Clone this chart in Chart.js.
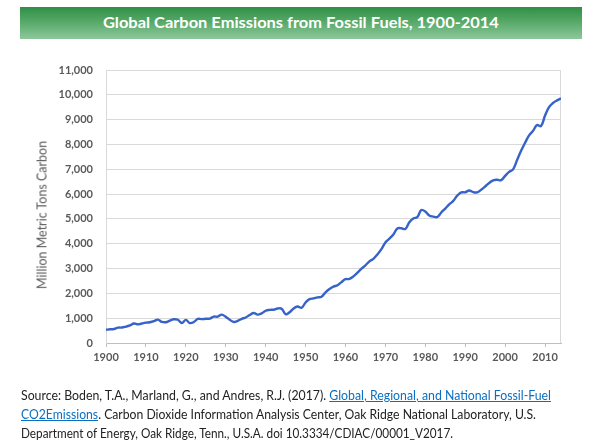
<!DOCTYPE html>
<html>
<head>
<meta charset="utf-8">
<script src="https://cdn.jsdelivr.net/npm/chart.js@4"></script>
<style>
html,body{margin:0;padding:0;background:#fff;width:599px;height:444px;overflow:hidden;}
#wrap{position:absolute;left:0;top:0;width:599px;height:444px;}
#titlebar{position:absolute;left:20px;top:7px;width:562px;height:32px;
  background:linear-gradient(to bottom,#2f8f45 0%,#5aab6c 50%,#8ec79b 100%);
  text-align:center;line-height:30px;}
#titlebar span{display:inline-block;color:#fff;font-family:Lato,"Open Sans",sans-serif;font-weight:bold;font-size:16px;white-space:nowrap;}
#ytitle{position:absolute;left:42px;top:215px;transform:translate(-50%,-50%) rotate(-90deg);
  white-space:nowrap;font-family:Lato,sans-serif;font-size:12.5px;color:#595959;}
#source{position:absolute;left:21px;top:386px;
  font-family:Lato,sans-serif;font-size:12.6px;line-height:19px;color:#222;}
#source .ln{display:block;white-space:nowrap;transform-origin:0 50%;width:max-content;}
#source a{color:#0a6fc2;text-decoration:underline;}
</style>
</head>
<body>
<div id="wrap"><canvas id="c"></canvas></div>
<div id="titlebar"><span id="ttext">Global Carbon Emissions from Fossil Fuels, 1900-2014</span></div>
<div id="ytitle">Million Metric Tons Carbon</div>
<div id="source"><span class="ln" data-w="530">Source: Boden, T.A., Marland, G., and Andres, R.J. (2017). <a href="#">Global, Regional, and National Fossil-Fuel</a></span><span class="ln" data-w="515"><a href="#">CO2Emissions</a>. Carbon Dioxide Information Analysis Center, Oak Ridge National Laboratory, U.S.</span><span class="ln" data-w="432">Department of Energy, Oak Ridge, Tenn., U.S.A. doi 10.3334/CDIAC/00001_V2017.</span></div>
<script>
const startYear = 1900;
const emissions = [
  534,552,566,617,624,663,707,784,750,785,
  819,836,879,943,850,838,901,955,936,806,
  932,803,845,970,963,975,983,1062,1065,1145,
  1053,940,847,893,973,1027,1130,1209,1142,1192,
  1299,1334,1342,1391,1383,1160,1238,1392,1469,1419,
  1630,1767,1795,1841,1865,2042,2177,2270,2330,2454,
  2569,2580,2686,2833,2995,3130,3288,3393,3566,3780,
  4053,4208,4376,4614,4623,4596,4864,5016,5074,5357,
  5301,5138,5094,5075,5258,5417,5583,5725,5936,6066,
  6074,6142,6078,6070,6174,6305,6448,6556,6576,6561,
  6733,6893,6994,7376,7743,8069,8364,8553,8783,8740,
  9167,9508,9671,9776,9855
];
const years = emissions.map((_, i) => startYear + i);
const xTicks = [1900,1910,1920,1930,1940,1950,1960,1970,1980,1990,2000,2010];
const yTicks = [0,1000,2000,3000,4000,5000,6000,7000,8000,9000,10000,11000];

function fitText() {
  document.querySelectorAll('#source .ln').forEach(el => {
    el.style.transform = 'none';
    const w = el.getBoundingClientRect().width;
    const t = parseFloat(el.dataset.w);
    if (w > 0) el.style.transform = 'scaleX(' + (t / w) + ')';
  });
  const tt = document.getElementById('ttext');
  tt.style.transform = 'none';
  const tw = tt.getBoundingClientRect().width;
  if (tw > 0) tt.style.transform = 'scaleX(' + (396 / tw) + ')';
}
fitText();
if (document.fonts && document.fonts.ready) document.fonts.ready.then(fitText);

const borderPlugin = {
  id: 'plotBorder',
  beforeDatasetsDraw(chart) {
    const a = chart.chartArea, ctx = chart.ctx;
    ctx.save();
    ctx.strokeStyle = '#d9d9d9';
    ctx.lineWidth = 1;
    ctx.beginPath();
    ctx.moveTo(a.left, a.top + 0.5);
    ctx.lineTo(a.right - 0.5, a.top + 0.5);
    ctx.lineTo(a.right - 0.5, a.bottom);
    ctx.stroke();
    ctx.restore();
  }
};

new Chart(document.getElementById('c'), {
  type: 'line',
  data: {
    datasets: [{
      data: years.map((y, i) => ({x: y, y: emissions[i]})),
      borderColor: '#3763c9',
      borderWidth: 2.4,
      pointRadius: 0,
      tension: 0.4,
      fill: false
    }]
  },
  plugins: [borderPlugin],
  options: {
    responsive: true,
    maintainAspectRatio: false,
    animation: false,
    layout: {padding: {top: 70, right: 38, bottom: 71, left: 0}},
    plugins: {legend: {display: false}, tooltip: {enabled: false}},
    scales: {
      x: {
        type: 'linear',
        min: 1900, max: 2014,
        afterFit(s) { s.height = 30; },
        afterBuildTicks(s) { s.ticks = xTicks.map(v => ({value: v})); },
        grid: {display: true, drawOnChartArea: false, drawTicks: true, tickLength: 4, color: '#bfbfbf'},
        border: {display: true, color: '#bfbfbf'},
        ticks: {
          padding: 4,
          color: '#595959',
          font: {family: 'Lato', size: 11, weight: 'bold'},
          callback: v => String(v)
        }
      },
      y: {
        min: 0, max: 11000,
        afterFit(s) { s.width = 106; },
        afterBuildTicks(s) { s.ticks = yTicks.map(v => ({value: v})); },
        grid: {color: '#d9d9d9', drawTicks: false},
        border: {display: true, color: '#d9d9d9'},
        ticks: {
          padding: 13,
          color: '#595959',
          font: {family: 'Lato', size: 11, weight: 'bold'},
          callback: v => v.toLocaleString('en-US')
        }
      }
    }
  }
});
</script>
</body>
</html>
